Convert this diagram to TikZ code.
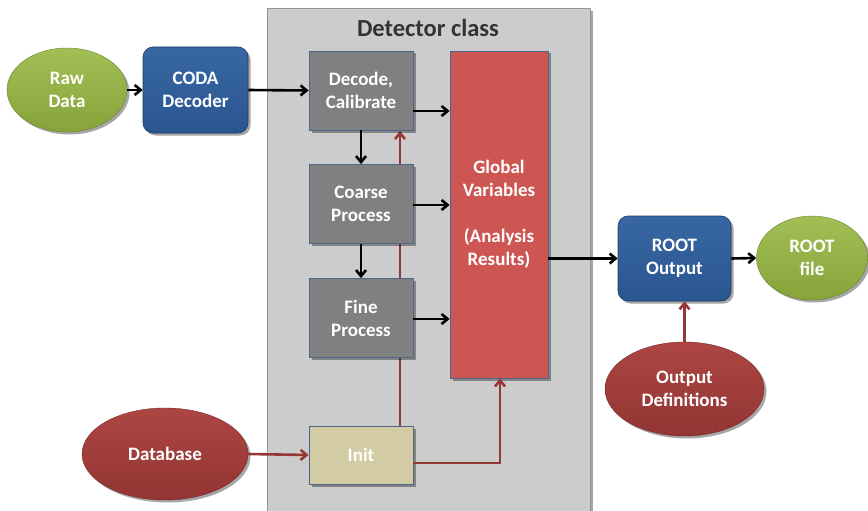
\documentclass[tikz,border=0pt]{standalone}
\usepackage{fontspec}
\setmainfont{Carlito}
\usetikzlibrary{shapes.geometric,arrows.meta,shadows}
\definecolor{cgreen}{HTML}{86A43A}
\definecolor{cgreenl}{HTML}{A2BF55}
\definecolor{cblue}{HTML}{2A5690}
\definecolor{cbluel}{HTML}{3867A3}
\definecolor{cred}{HTML}{923533}
\definecolor{credl}{HTML}{AD4643}
\definecolor{cgray}{HTML}{808080}
\definecolor{cbox}{HTML}{CD5552}
\definecolor{cbeige}{HTML}{D2CBA3}
\definecolor{cback}{HTML}{CCCCCC}
\definecolor{carrow}{HTML}{953735}
\begin{document}
\begin{tikzpicture}[x=1pt,y=-1pt,
  every node/.style={font=\bfseries\fontsize{19}{23}\selectfont, text=white, align=center, inner sep=0pt},
  shd/.style={drop shadow={shadow xshift=2.5pt, shadow yshift=-2.5pt, opacity=0.35, fill=black}},
  greenell/.style={ellipse, shd, top color=cgreenl, bottom color=cgreen, draw=cgreen!80!black, line width=0.4pt},
  redell/.style={ellipse, shd, top color=credl, bottom color=cred, draw=cred!80!black, line width=0.4pt},
  bluebox/.style={rectangle, rounded corners=10pt, shd, top color=cbluel, bottom color=cblue, draw=cblue!70!black, line width=0.6pt},
  graybox/.style={rectangle, shd, fill=cgray, draw=cblue!60!gray, line width=0.8pt, minimum width=104pt, minimum height=79pt},
  blk/.style={-{Straight Barb[length=6pt,width=10pt]}, line width=2.6pt, black},
  redar/.style={-{Straight Barb[length=6pt,width=10pt]}, line width=2.6pt, carrow}]
\useasboundingbox (0,0) rectangle (868,511);
% detector class background
\node[rectangle, shd, fill=cback, draw=gray!85, line width=1.2pt, minimum width=323pt, minimum height=510pt, anchor=north west] (det) at (267,8) {};
\node[text=black!80, font=\bfseries\fontsize{24.5}{28}\selectfont] (dtitle) at (428,28) {Detector class};

% red feedback line (behind boxes)
\coordinate (initTop) at (400,426);
\coordinate (decBot) at (400,131);
\draw[redar] (initTop) -- (decBot);

% nodes
\node[greenell, minimum width=120pt, minimum height=84pt] (raw) at (67,90) {Raw\\Data};
\node[bluebox, minimum width=105pt, minimum height=86pt] (coda) at (195.5,90) {CODA\\Decoder};
\node[graybox] (dec) at (361,90.5) {Decode,\\Calibrate};
\node[graybox] (coarse) at (361,204) {Coarse\\Process};
\node[graybox] (fine) at (361,318) {Fine\\Process};
\node[rectangle, shd, fill=cbox, draw=cblue!60!gray, line width=0.8pt, minimum width=98pt, minimum height=327pt] (glob) at (499,214.5) {Global\\Variables\\[23pt](Analysis\\Results)};
\node[rectangle, shd, fill=cbeige, draw=cblue!60!gray, line width=0.8pt, minimum width=104pt, minimum height=58pt] (init) at (361,455) {Init};
\node[redell, minimum width=166pt, minimum height=92pt] (db) at (165,454) {Database};
\node[bluebox, minimum width=113pt, minimum height=85pt] (rout) at (674.5,258.5) {ROOT\\Output};
\node[greenell, minimum width=111pt, minimum height=84pt] (rfile) at (812,258) {ROOT\\file};
\node[redell, minimum width=159pt, minimum height=94pt] (odef) at (684.5,389) {Output\\Definitions};

% connectors
\draw[blk] (raw.east) -- (coda.west);
\draw[blk] (coda.east) -- (dec.west);
\draw[blk] (dec.east |- 0,111) -- (glob.west |- 0,111);
\draw[blk] (coarse.east |- 0,205) -- (glob.west |- 0,205);
\draw[blk] (fine.east |- 0,319) -- (glob.west |- 0,319);
\draw[blk] (dec.south) -- (coarse.north);
\draw[blk] (coarse.south) -- (fine.north);
\draw[blk] (glob.east |- rout.west) -- (rout.west);
\draw[blk] (rout.east) -- (rfile.west);
\draw[redar] (db.east) -- (init.west);
\draw[redar] (init.east |- 0,463) -| (glob.south -| 500,0);
\draw[redar] (odef.north) -- (rout.south -| odef.north);
\end{tikzpicture}
\end{document}
